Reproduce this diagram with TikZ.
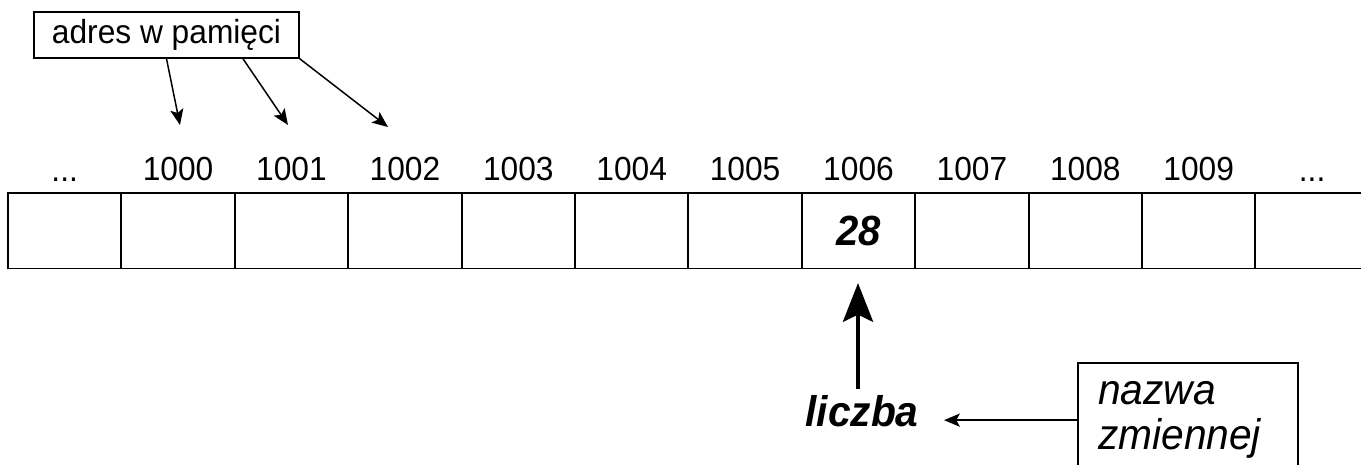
\documentclass[tikz,border=0pt]{standalone}
\usepackage{fontspec}
\setmainfont{Liberation Sans}[FakeStretch=0.95]
\usetikzlibrary{arrows.meta,positioning}

\begin{document}
\begin{tikzpicture}[x=0.02cm,y=-0.02cm,
    cell/.style={draw,line width=1.1pt,minimum width=2.268cm,minimum height=1.51cm,inner sep=0pt},
    small/.style={font=\fontsize{19}{22}\selectfont},
    bigtext/.style={font=\fontsize{24.4}{28}\selectfont\bfseries\itshape},
    nametext/.style={font=\fontsize{24.4}{25.5}\selectfont\itshape},
    pointer/.style={line width=0.85pt,-{Stealth[length=9pt,width=7.5pt,inset=2pt]}},
    bigpointer/.style={line width=2.8pt,-{Stealth[length=22pt,width=17pt,inset=4pt]}}]
    \useasboundingbox (0,0) rectangle (1361,464);
    \clip (0,0) rectangle (1361,464);
    \def\cellw{113.4}
    \foreach \i in {0,...,11}{
      \node[cell] (c\i) at (8+\cellw*\i+\cellw/2,230.75) {};
      \node[small,inner sep=0pt,above=0.21cm of c\i] (a\i)
        {\ifnum\i=0 ...\else\ifnum\i=11 ...\else\number\numexpr999+\i\relax\fi\fi};
    }
    \node[bigtext,font=\fontsize{24}{28}\selectfont\bfseries\itshape] (val) at (c7) {28};
    \node[draw,line width=0.85pt,small,minimum width=5.3cm,minimum height=0.92cm,inner xsep=0pt] (addr) at (166.5,35) {adres w pamięci};
    \coordinate (p0) at (180,125);
    \coordinate (p1) at (288,125);
    \coordinate (p2) at (388,127);
    \draw[pointer] (addr.south) -- (p0);
    \draw[pointer] ([xshift=1.53cm]addr.south) -- (p1);
    \draw[pointer] (addr.south east) -- (p2);
    \node[bigtext,anchor=base] (var) at (862,426) {liczba};
    \coordinate (hit) at (858,283);
    \draw[bigpointer] (var.north -| hit) -- (hit);
    \node[draw,line width=0.85pt,nametext,align=left,text width=3.6cm,inner xsep=0.4cm,inner ysep=0.38cm,anchor=north] (name) at (1188,362) {nazwa\\zmiennej};
    \coordinate (end) at (944,418);
    \draw[pointer] (name.west) -- (name.west -| end);
\end{tikzpicture}
\end{document}
